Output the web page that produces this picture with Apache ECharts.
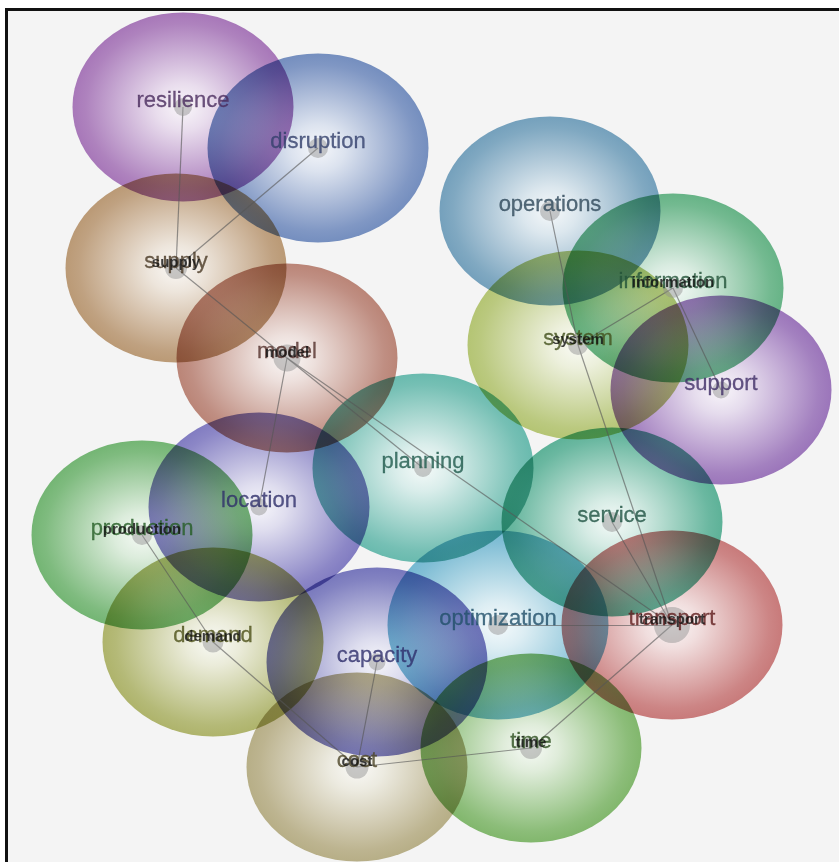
<!DOCTYPE html>
<html>
<head>
<meta charset="utf-8">
<script src="https://cdn.jsdelivr.net/npm/echarts@6/dist/echarts.min.js"></script>
<style>
  html, body { margin: 0; padding: 0; background: #ffffff; }
  #frame { position: absolute; left: 5px; top: 8px; width: 834px; height: 854px;
           background: #f4f4f4; border-left: 3px solid #111; border-top: 3px solid #111; box-sizing: border-box; }
  #chart { position: absolute; left: 0; top: 0; width: 839px; height: 862px; }
</style>
</head>
<body>
<div id="frame"></div>
<div id="chart"></div>
<script>
// ---- data ----
const nodeNames = ['resilience','disruption','supply','model','operations','information','system','support',
  'planning','location','production','service','optimization','transport','demand','capacity','cost','time'];
const nodeX = [183, 318, 176, 287, 550, 673, 578, 721, 423, 259, 142, 612, 498, 672, 213, 377, 357, 531];
const nodeY = [107, 148, 268, 358, 211, 288, 345, 390, 468, 507, 535, 522, 625, 625, 642, 662, 767, 748];
const nodeWeight = [18, 20, 22, 27, 20, 20, 20, 17, 18, 17, 20, 20, 20, 36, 21, 17, 23, 22];
const ellipseColors = ['#9a62ae','#5f7db5','#b08a60','#b07262','#5f92b2','#4fa874','#a9bc5e','#8c60b0',
  '#52b0a2','#6e68b8','#5eaa5e','#44a688','#60aecb','#c06666','#a2a854','#6262b2','#aca274','#6eac56'];
const labelColors = ['#4a2c5e','#33406c','#4a3a26','#52302a','#30485a','#24543a','#42501c','#402e66',
  '#1f5a4c','#30306a','#255e26','#215444','#22506a','#601e1e','#4c5018','#2e2e6c','#4e4628','#2e5020'];
const boldLabelNodes = ['supply','model','information','system','production','demand','cost','time','transport'];
const edges = [
  ['resilience','supply'], ['disruption','supply'], ['supply','model'],
  ['model','location'], ['model','planning'], ['model','transport'],
  ['operations','system'], ['system','information'], ['system','transport'],
  ['information','support'], ['service','transport'], ['optimization','transport'],
  ['transport','time'], ['production','demand'], ['demand','cost'],
  ['capacity','cost'], ['cost','time']
];

// ---- helpers ----
function hexToRgb(h) {
  const n = parseInt(h.slice(1), 16);
  return [(n >> 16) & 255, (n >> 8) & 255, n & 255];
}
function mixWhite(h, t) {
  const c = hexToRgb(h);
  return 'rgb(' + c.map(v => Math.round(255 + (v - 255) * t)).join(',') + ')';
}
const idx = name => nodeNames.indexOf(name);

const chart = echarts.init(document.getElementById('chart'), null, { renderer: 'canvas' });

const ellipseData = nodeNames.map((n, i) => ({
  name: n,
  value: [nodeX[i], nodeY[i]],
  itemStyle: {
    color: new echarts.graphic.RadialGradient(0.5, 0.5, 0.5, [
      { offset: 0, color: mixWhite(ellipseColors[i], 0.06) },
      { offset: 0.25, color: mixWhite(ellipseColors[i], 0.25) },
      { offset: 0.6, color: mixWhite(ellipseColors[i], 0.62) },
      { offset: 0.88, color: mixWhite(ellipseColors[i], 0.92) },
      { offset: 1, color: ellipseColors[i] }
    ])
  }
}));

const lineData = edges.map(([a, b]) => ({
  coords: [[nodeX[idx(a)], nodeY[idx(a)]], [nodeX[idx(b)], nodeY[idx(b)]]]
}));

const dotData = nodeNames.map((n, i) => ({
  name: n,
  value: [nodeX[i], nodeY[i]],
  symbolSize: nodeWeight[i],
  label: { color: labelColors[i], textBorderColor: labelColors[i] }
}));

const smallData = boldLabelNodes.map(n => ({
  name: n,
  value: [nodeX[idx(n)], nodeY[idx(n)]]
}));

chart.setOption({
  animation: false,
  backgroundColor: 'transparent',
  grid: { left: 0, right: 0, top: 0, bottom: 0 },
  xAxis: { type: 'value', min: 0, max: 839, show: false },
  yAxis: { type: 'value', min: 0, max: 862, inverse: true, show: false },
  series: [
    {
      type: 'scatter',
      symbol: 'circle',
      symbolSize: [221, 189],
      blendMode: 'multiply',
      itemStyle: { opacity: 0.86 },
      silent: true,
      data: ellipseData,
      z: 1
    },
    {
      type: 'lines',
      coordinateSystem: 'cartesian2d',
      silent: true,
      lineStyle: { color: 'rgba(85,85,85,0.62)', width: 1.2, curveness: 0, opacity: 1 },
      data: lineData,
      z: 2
    },
    {
      type: 'scatter',
      symbol: 'circle',
      silent: true,
      itemStyle: { color: 'rgba(145,145,145,0.6)' },
      label: {
        show: true, position: 'inside', offset: [0, -6],
        formatter: '{b}', fontSize: 22, textBorderWidth: 0.3,
        fontFamily: '"Liberation Sans", Arial, sans-serif'
      },
      data: dotData,
      z: 3
    },
    {
      type: 'scatter',
      symbolSize: 0,
      silent: true,
      itemStyle: { color: 'rgba(0,0,0,0)' },
      label: {
        show: true, position: 'inside', offset: [0, -5],
        formatter: '{b}', fontSize: 15, fontWeight: 'bold', color: '#111111',
        fontFamily: '"Liberation Sans", Arial, sans-serif'
      },
      data: smallData,
      z: 4
    }
  ]
});
</script>
</body>
</html>
